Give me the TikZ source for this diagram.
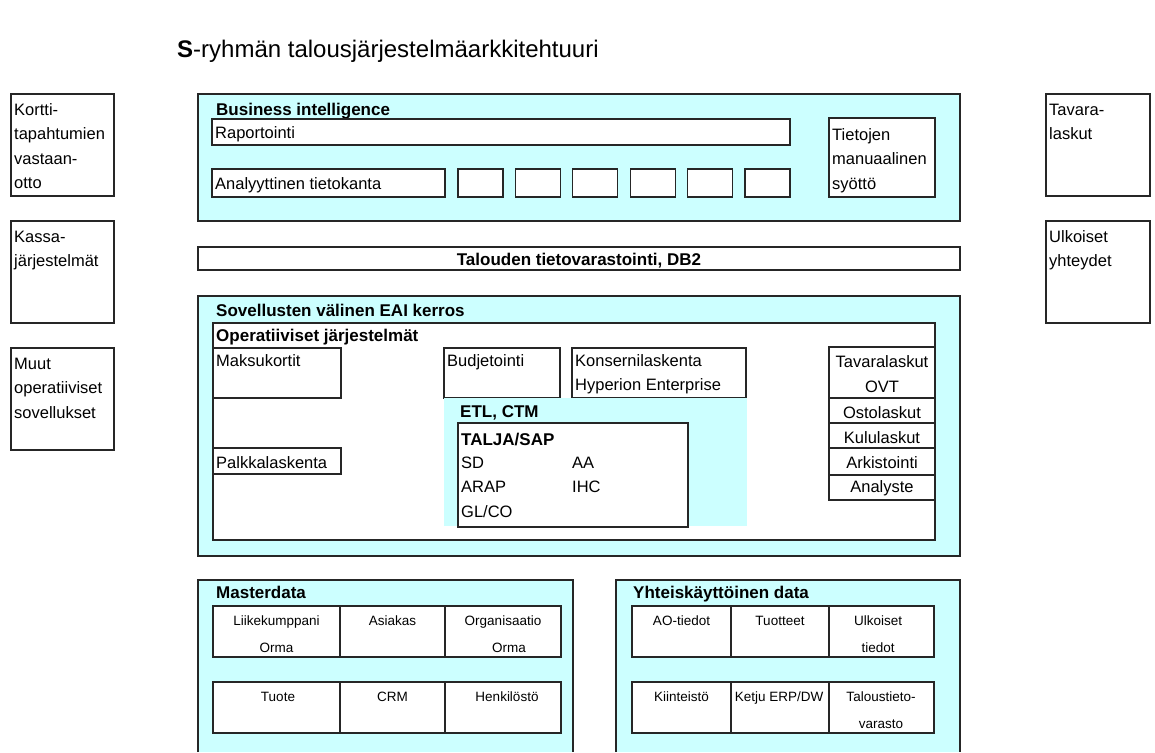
\documentclass[tikz,border=0pt]{standalone}
\usepackage{fontspec}
\setmainfont{Liberation Sans}
\usepackage{tikz}
\definecolor{bicyan}{RGB}{204,255,255}

\begin{document}
\begin{tikzpicture}[x=1pt, y=-1pt,
  box/.style={draw=black!85, line width=1.2pt, fill=white},
  layer/.style={draw=black!85, line width=1.2pt, fill=bicyan},
  txt/.style={anchor=base west, inner sep=0pt, align=left, font=\fontsize{16.5}{24.5}\selectfont},
  hdr/.style={txt, font=\bfseries\fontsize{17}{24.5}\selectfont},
  ctxt/.style={txt, anchor=base, align=center},
  cell/.style={anchor=base, inner sep=0pt, align=center, font=\fontsize{13.5}{27}\selectfont}]

\useasboundingbox (0,0) rectangle (1155,752);

\node[anchor=base west, inner sep=0pt, font=\fontsize{24}{28}\selectfont] (title) at (177,57)
  {\textbf{S}-ryhmän talousjärjestelmäarkkitehtuuri};

\draw[box] (11,94) rectangle (114,196);
\draw[box] (11,221) rectangle (114,323);
\draw[box] (11,348) rectangle (114,450);
\node[txt] (kortti) at (14,188.5) {Kortti-\\tapahtumien\\vastaan-\\otto};
\node[txt] (kassa) at (14,266.5) {Kassa-\\järjestelmät};
\node[txt] (muut) at (14,418) {Muut\\operatiiviset\\sovellukset};

\draw[box] (1046,94) rectangle (1150,196);
\draw[box] (1046,221) rectangle (1150,323);
\node[txt] (tavara) at (1049,139.5) {Tavara-\\laskut};
\node[txt] (ulkoiset) at (1049,266.5) {Ulkoiset\\yhteydet};

\draw[layer] (198,94) rectangle (960,221);
\node[hdr] (bi) at (216,115) {Business intelligence};
\draw[box] (212,119) rectangle (790,145);
\node[txt] (raportointi) at (215,138) {Raportointi};
\draw[box] (212,169) rectangle (445,197);
\node[txt] (analyyttinen) at (215,189) {Analyyttinen tietokanta};
\foreach \i in {0,...,5}
{
    \draw[box] ({458+57.4*\i},169) rectangle +(45,28);
}
\draw[box] (829,118) rectangle (935,197);
\node[txt] (manuaalinen) at (832,189) {Tietojen\\manuaalinen\\syöttö};

\draw[box] (198,247) rectangle (960,270);
\node[hdr, anchor=base] (db2) at (579,265) {Talouden tietovarastointi, DB2};

\draw[layer] (198,296) rectangle (960,556);
\node[hdr] (eai) at (216,316) {Sovellusten välinen EAI kerros};
\draw[box] (213,323) rectangle (935,540);
\node[hdr] (operatiiviset) at (216,341) {Operatiiviset järjestelmät};
\draw[box] (213,348) rectangle (341,398);
\node[txt] (maksukortit) at (216,366) {Maksukortit};
\draw[box] (444,348) rectangle (560,398);
\node[txt] (budjetointi) at (447,366) {Budjetointi};
\draw[box] (572,348) rectangle (746,398);
\node[txt] (konserni) at (575,390.5) {Konsernilaskenta\\Hyperion Enterprise};
\fill[bicyan] (444,398) rectangle (747,526);
\node[hdr] (etl) at (460,417) {ETL, CTM};
\draw[box] (458,423) rectangle (688,527);
\node[hdr] (talja) at (461,445) {TALJA/SAP};
\node[txt] (sd) at (461,517) {SD\\ARAP\\GL/CO};
\node[txt] (aa) at (572,492.5) {AA\\IHC};
\draw[box] (213,448) rectangle (341,474);
\node[txt] (palkka) at (216,468) {Palkkalaskenta};

\draw[box] (829,347) rectangle (935,398);
\draw[box] (829,398) rectangle (935,423);
\draw[box] (829,423) rectangle (935,448);
\draw[box] (829,448) rectangle (935,475);
\draw[box] (829,475) rectangle (935,500);
\node[ctxt] (tavaralaskut) at (882,392) {Tavaralaskut\\OVT};
\node[ctxt] (ostolaskut) at (882,418) {Ostolaskut};
\node[ctxt] (kululaskut) at (882,443) {Kululaskut};
\node[ctxt] (arkistointi) at (882,468) {Arkistointi};
\node[ctxt] (analyste) at (882,492) {Analyste};

\fill[bicyan] (198,580) rectangle (573,752);
\draw[draw=black!85, line width=1.2pt] (198,752) -- (198,580) -- (573,580) -- (573,752);
\node[hdr] (masterdata) at (216,598) {Masterdata};
\draw[box] (213,606) rectangle (561,657);
\draw[box] (213,682) rectangle (561,733);
\draw[draw=black!85, line width=1.2pt] (340,606) -- (340,657) (445,606) -- (445,657);
\draw[draw=black!85, line width=1.2pt] (340,682) -- (340,733) (445,682) -- (445,733);
\node[cell] (liikekumppani) at (276.5,652) {Liikekumppani\\Orma};
\node[cell] (asiakas) at (392.5,625) {Asiakas};
\node[cell] (organisaatio) at (503,652) {Organisaatio\\\hspace*{12pt}Orma};
\node[cell] (tuote) at (278,701) {Tuote};
\node[cell] (crm) at (392.5,701) {CRM};
\node[cell] (henkilosto) at (507,701) {Henkilöstö};

\fill[bicyan] (616,580) rectangle (960,752);
\draw[draw=black!85, line width=1.2pt] (616,752) -- (616,580) -- (960,580) -- (960,752);
\node[hdr] (yhteis) at (633,598) {Yhteiskäyttöinen data};
\draw[box] (632,606) rectangle (934,657);
\draw[box] (632,682) rectangle (934,733);
\draw[draw=black!85, line width=1.2pt] (731,606) -- (731,657) (829,606) -- (829,657);
\draw[draw=black!85, line width=1.2pt] (731,682) -- (731,733) (829,682) -- (829,733);
\node[cell] (aotiedot) at (681.5,625) {AO-tiedot};
\node[cell] (tuotteet) at (780,625) {Tuotteet};
\node[cell] (ulkoisettiedot) at (878,652) {Ulkoiset\\tiedot};
\node[cell] (kiinteisto) at (681.5,701) {Kiinteistö};
\node[cell] (ketju) at (779,701) {Ketju ERP/DW};
\node[cell] (taloustieto) at (881,728) {Taloustieto-\\varasto};

\end{tikzpicture}
\end{document}
